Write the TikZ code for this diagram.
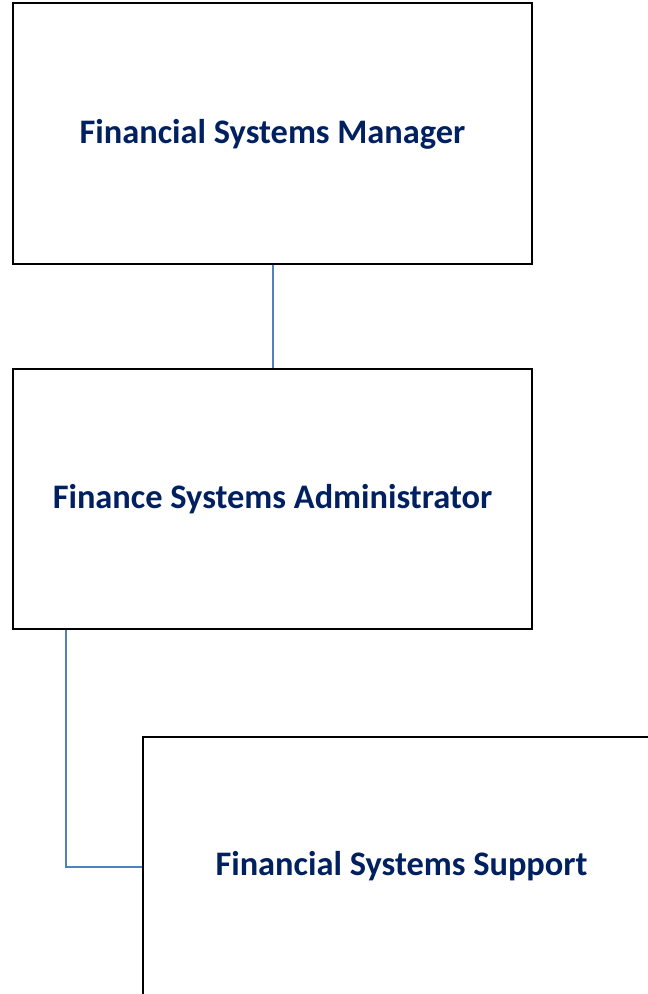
\documentclass[tikz,border=0pt]{standalone}
\usepackage{fontspec}
\setmainfont{Carlito}
\definecolor{navy}{HTML}{002060}
\definecolor{conn}{HTML}{4F81BD}
\begin{document}
\begin{tikzpicture}[x=0.75pt,y=-0.75pt,
  box/.style={draw=black,line width=1.6pt,fill=white,inner sep=0pt},
  lbl/.style={text=navy,font=\bfseries\fontsize{25.8}{30}\selectfont},
  link/.style={draw=conn,line width=2pt}]
\useasboundingbox (0,0) rectangle (648,994);
\clip (0,0) rectangle (648,994);
\draw[box] (13,3) rectangle (532,264);
\node[lbl] (t1) at (272.5,134) {Financial Systems Manager};
\draw[box] (13,369) rectangle (532,629);
\node[lbl] (t2) at (272.5,499) {Finance Systems Administrator};
\draw[box] (143,737) rectangle (660,998);
\node[lbl] (t3) at (401.5,866) {Financial Systems Support};
\coordinate (a1) at (273,265);
\coordinate (a2) at (273,368);
\coordinate (c1) at (66,630);
\coordinate (c2) at (66,867);
\coordinate (c3) at (142,867);
\draw[link] (a1) -- (a2);
\draw[link] (c1) -- (c2) -- (c3);
\end{tikzpicture}
\end{document}
